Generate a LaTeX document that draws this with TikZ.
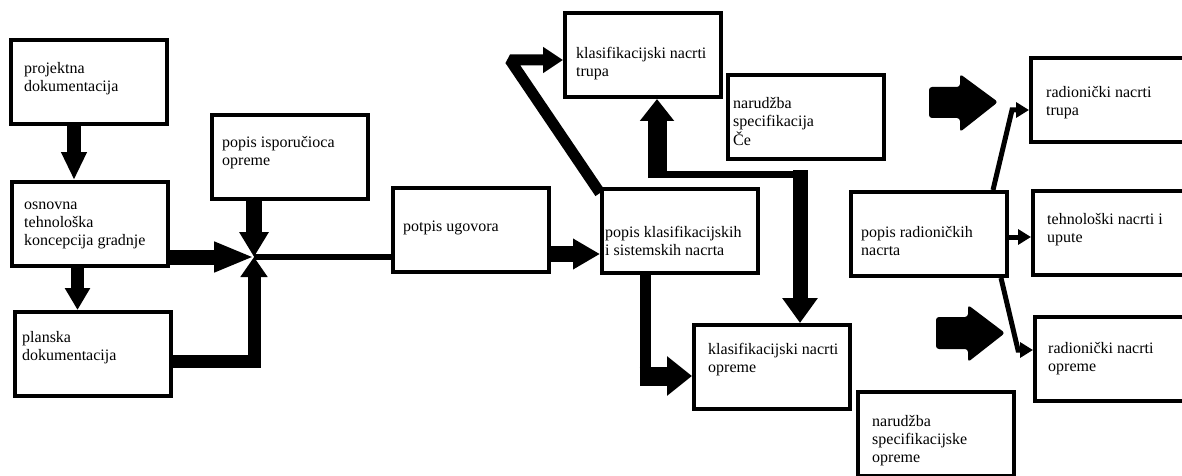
\documentclass[tikz,border=0pt]{standalone}
\usepackage{fontspec}
\setmainfont{Liberation Serif}
\usetikzlibrary{arrows.meta,calc}
\newcommand{\docbox}[6]{% name, x, y, text dx, last baseline dy, text
  \node[box] (#1) at (#2,#3) {};
  \node[txt] (#1-t) at ($(#1.north west)+(#4,#5)$) {#6};
}
\tikzset{
  box/.style={draw,line width=4pt,anchor=north west,minimum width=156pt,minimum height=84pt,inner sep=0pt},
  txt/.style={anchor=base west,align=left,inner sep=0pt,font=\fontsize{16}{18}\selectfont},
  hd/.style 2 args={-{Triangle[length=#1,width=#2]}},
  thin/.style={line width=5pt},
}

\begin{document}
\begin{tikzpicture}[x=1pt,y=-1pt]
\useasboundingbox (0,0) rectangle (1182,476);
\clip (0,0) rectangle (1182,476);

% left column
\docbox{pd}{9}{38}{15}{54}{projektna\\dokumentacija}
\docbox{otk}{10}{180}{14}{65}{osnovna\\tehnološka\\koncepcija gradnje}
\docbox{plan}{13}{310}{9}{50}{planska\\dokumentacija}
\docbox{pio}{210}{113}{12}{52}{popis isporučioca\\opreme}
\docbox{pu}{391}{186}{12}{45}{potpis ugovora}

% middle
\docbox{knt}{563}{11}{13}{66}{klasifikacijski nacrti\\trupa}
\docbox{nsc}{726}{73}{7}{72}{narudžba\\specifikacija\\Če}
\docbox{pks}{600}{187}{5}{68}{popis klasifikacijskih\\i sistemskih nacrta}
\docbox{kno}{692}{323}{16}{49}{klasifikacijski nacrti\\opreme}
\docbox{nso}{856}{390}{16}{72}{narudžba\\specifikacijske\\opreme}

% right
\docbox{prn}{849}{190}{12}{65}{popis radioničkih\\nacrta}
\docbox{rnt}{1029}{56}{17}{60}{radionički nacrti\\trupa}
\docbox{tnu}{1031}{189}{16}{53}{tehnološki nacrti i\\upute}
\docbox{rno}{1033}{315}{15}{56}{radionički nacrti\\opreme}

\coordinate (jn) at (254,257);
\coordinate (kb) at (510,60);
\coordinate (kc1) at (657,174);
\coordinate (kc2) at (800,174);
\coordinate (kd) at (645,376);
\coordinate (rc1) at (1012,110);
\coordinate (rc2) at (1018,350);

% into the junction
\draw[line width=14pt,hd={28pt}{24pt}] ([xshift=-15pt]pd.south) -- ([xshift=-16pt]otk.north);
\draw[line width=13pt,hd={22pt}{24pt}] ([xshift=-12.5pt]otk.south) -- ([xshift=-15.5pt]plan.north);
\draw[line width=15pt,hd={40pt}{28pt}] ([yshift=-33pt]otk.east) -- (jn);
\draw[line width=16pt,hd={25pt}{28pt}] ([xshift=-36pt]pio.south) -- (jn);
\draw[line width=13pt,hd={20pt}{26pt}] ([yshift=-7pt]plan.east) -| (jn);
\draw[line width=6pt] (jn) -- (jn -| pu.west);

% klasifikacija
\draw[line width=16pt,hd={27pt}{29pt}] ([yshift=-24pt]pu.east) -- ([yshift=-24pt]pu.east -| pks.west);
\draw[line width=11pt,line join=bevel,hd={20pt}{25pt}] ([yshift=-6pt]pks.north west) -- (kb) -- (kb -| knt.west);
\draw[line width=19pt,hd={22pt}{33pt}] ([yshift=-4pt]kc1) -- (kc1 |- knt.south);
\draw[line width=7pt] (kc1) -- (kc2);
\draw[line width=15pt,hd={25pt}{34pt}] ([yshift=4pt]kc2) -- (kc2 |- kno.north);
\draw[line width=11pt] ([xshift=-35pt]pks.south) -- ([yshift=-9pt]kd);
\draw[line width=19pt,hd={25pt}{38pt}] ([xshift=-5.5pt]kd) -- (kd -| kno.west);

% radionicki nacrti
\draw[thin,hd={13pt}{15pt}] ([xshift=64pt]prn.north) -- (rc1) -- (rc1 -| rnt.west);
\draw[thin,hd={13pt}{15pt}] ([yshift=-3pt]prn.east) -- ([yshift=-3pt]prn.east -| tnu.west);
\draw[thin,hd={13pt}{15pt}] ([xshift=72pt]prn.south) -- (rc2) -- (rc2 -| rno.west);

% block arrows
\fill[rounded corners=3pt] (929,87) -- (960,87) -- (960,74) -- (998,102) -- (960,132) -- (960,118) -- (929,118) -- cycle;
\fill[rounded corners=3pt] (936,317) -- (968,317) -- (968,305) -- (1005,333) -- (968,362) -- (968,349) -- (936,349) -- cycle;
\end{tikzpicture}
\end{document}
